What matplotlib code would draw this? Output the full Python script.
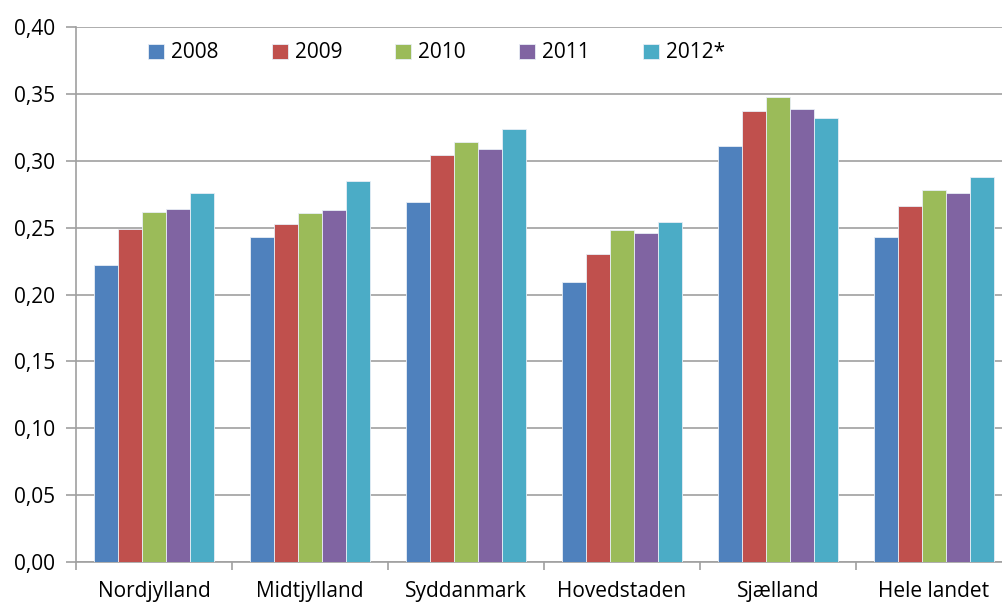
import matplotlib
matplotlib.use("Agg")
import matplotlib.pyplot as plt
import numpy as np
from matplotlib.ticker import FuncFormatter, MultipleLocator

categories = ["Nordjylland", "Midtjylland", "Syddanmark", "Hovedstaden", "Sjælland", "Hele landet"]
series_labels = ["2008", "2009", "2010", "2011", "2012*"]
v2008 = [0.222, 0.243, 0.269, 0.209, 0.311, 0.243]
v2009 = [0.249, 0.253, 0.304, 0.230, 0.337, 0.266]
v2010 = [0.262, 0.261, 0.314, 0.248, 0.348, 0.278]
v2011 = [0.264, 0.263, 0.309, 0.246, 0.339, 0.276]
v2012 = [0.276, 0.285, 0.324, 0.254, 0.332, 0.288]
series = [v2008, v2009, v2010, v2011, v2012]
colors = ["#4F81BD", "#C0504D", "#9BBB59", "#8064A2", "#4BACC6"]

plt.rcParams['font.family'] = ['Open Sans', 'DejaVu Sans']

W, H = 1002, 604
fig = plt.figure(figsize=(W / 100, H / 100), dpi=100)
ax = fig.add_axes([76 / W, 42 / H, (1012 - 76) / W, (577 - 42) / H])

n = len(series)
group = 120 / 156
bw = group / n
x = np.arange(len(categories))
for i, (vals, lab, c) in enumerate(zip(series, series_labels, colors)):
    ax.bar(x - group / 2 + bw * (i + 0.5), vals, width=bw, color=c, label=lab,
           edgecolor="#E8EEF6", linewidth=0.6, zorder=3)

ax.set_xlim(-0.5, len(categories) - 0.5)
ax.set_ylim(0, 0.40)
ax.yaxis.set_major_locator(MultipleLocator(0.05))
ax.yaxis.set_major_formatter(FuncFormatter(lambda v, p: f"{v:.2f}".replace(".", ",")))
ax.yaxis.grid(True, color="#A0A0A0", linewidth=1.2, zorder=0)
ax.set_axisbelow(True)

ax.set_xticks(x)
ax.set_xticklabels(categories)
ax.set_xticks(np.arange(-0.5, len(categories)), minor=True)
ax.tick_params(axis='x', which='major', length=0, pad=14, labelsize=15, colors="#000000")
ax.tick_params(axis='x', which='minor', length=6, width=1.2, color="#A0A0A0")
ax.tick_params(axis='y', length=7, width=1.2, color="#A0A0A0", labelsize=15, pad=8)

for s in ["top", "right"]:
    ax.spines[s].set_visible(False)
for s in ["left", "bottom"]:
    ax.spines[s].set_color("#A0A0A0")
    ax.spines[s].set_linewidth(1.2)

leg = fig.legend(loc="center left", bbox_to_anchor=(140 / W, 1 - 53 / H), ncol=5,
                 frameon=False, fontsize=15, handlelength=0.75, handleheight=0.75,
                 handletextpad=0.35, columnspacing=2.55, borderaxespad=0)

fig.savefig("out.png", dpi=100)
